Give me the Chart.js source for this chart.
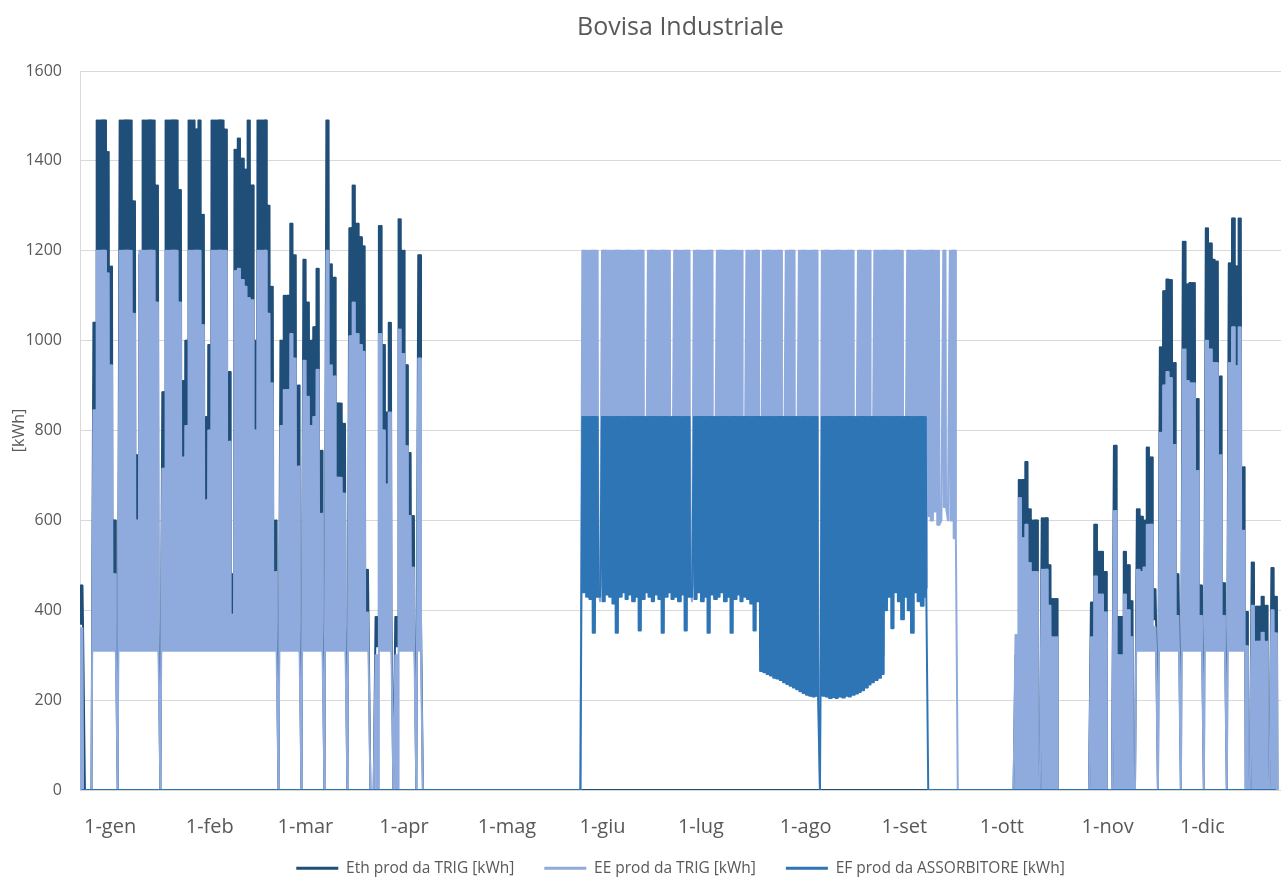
<!DOCTYPE html>
<html>
<head>
<meta charset="utf-8">
<title>Bovisa Industriale</title>
<script src="https://cdn.jsdelivr.net/npm/chart.js@4.4.1/dist/chart.umd.min.js"></script>
<style>
  html, body { margin: 0; padding: 0; background: #ffffff; }
  canvas { display: block; }
</style>
</head>
<body>
<canvas id="chart" width="1281" height="883"></canvas>
<script>
// ---- Axis labels -------------------------------------------------------
const monthLabels = ['1-gen', '1-feb', '1-mar', '1-apr', '1-mag', '1-giu',
                     '1-lug', '1-ago', '1-set', '1-ott', '1-nov', '1-dic'];
const monthStartDays = [0, 31, 59, 90, 120, 151, 181, 212, 243, 273, 304, 334];
const yearDays = 365;

const seriesNames = ['Eth prod da TRIG [kWh]', 'EE prod da TRIG [kWh]', 'EF prod da ASSORBITORE [kWh]'];

// ---- Daily operating ranges (kWh): daily peak and overnight base ----------
// A day whose peak equals its base is a single reading (e.g. plant off = 0).

// Heating season, 1 Jan onwards (day 0)
const winterAStart = 0;
const ethPeakWinterA = [
  455, 0, 0, 0, 1040, 1490, 1490, 1490, 1420, 1165,
  600, 0, 1490, 1490, 1490, 1490, 1310, 745, 1190, 1490,
  1490, 1490, 1490, 1345, 0, 885, 1490, 1490, 1490, 1490,
  1335, 910, 1000, 1490, 1490, 1470, 1490, 1280, 830, 990,
  1490, 1490, 1490, 1490, 1470, 930, 480, 1425, 1450, 1405,
  1380, 1490, 1345, 1000, 1490, 1490, 1490, 1300, 1120, 600,
  0, 1000, 1100, 1100, 1260, 1190, 900, 0, 1180, 1085,
  1000, 1030, 1160, 755, 0, 1490, 1170, 1140, 860, 860,
  815, 0, 1250, 1345, 1260, 1230, 1210, 490, 0, 0,
  385, 1255, 990, 840, 1040, 0, 385, 1270, 1200, 945,
  750, 610, 0, 1190, 0
];
const ethBaseWinterA = [
  370, 0, 0, 0, 380, 380, 380, 380, 380, 380,
  380, 0, 380, 380, 380, 380, 380, 380, 380, 380,
  380, 380, 380, 380, 0, 380, 380, 380, 380, 380,
  380, 380, 380, 380, 380, 380, 380, 380, 380, 380,
  380, 380, 380, 380, 380, 380, 380, 380, 380, 380,
  380, 380, 380, 380, 380, 380, 380, 380, 380, 380,
  0, 380, 380, 380, 380, 380, 380, 0, 380, 380,
  380, 380, 380, 380, 0, 380, 380, 380, 380, 380,
  380, 0, 380, 380, 380, 380, 380, 380, 0, 0,
  320, 380, 380, 380, 380, 0, 320, 380, 380, 380,
  380, 380, 0, 380, 0
];
const eePeakWinterA = [
  360, 0, 0, 0, 845, 1200, 1200, 1200, 1150, 945,
  480, 0, 1200, 1200, 1200, 1200, 1060, 600, 1200, 1200,
  1200, 1200, 1200, 1085, 0, 715, 1200, 1200, 1200, 1200,
  1085, 740, 810, 1200, 1200, 1200, 1200, 1035, 645, 800,
  1200, 1200, 1200, 1200, 1200, 775, 390, 1155, 1160, 1135,
  1120, 1095, 1090, 800, 1200, 1200, 1200, 1060, 905, 485,
  0, 810, 890, 890, 1015, 960, 720, 0, 955, 875,
  810, 830, 935, 615, 0, 1200, 945, 920, 695, 695,
  660, 0, 1010, 1085, 1015, 990, 975, 395, 0, 0,
  300, 1015, 800, 680, 840, 0, 300, 1025, 970, 765,
  610, 495, 0, 960, 0
];
const eeBaseWinterA = [
  0, 0, 0, 0, 310, 310, 310, 310, 310, 310,
  310, 0, 310, 310, 310, 310, 310, 310, 310, 310,
  310, 310, 310, 310, 0, 310, 310, 310, 310, 310,
  310, 310, 310, 310, 310, 310, 310, 310, 310, 310,
  310, 310, 310, 310, 310, 310, 310, 310, 310, 310,
  310, 310, 310, 310, 310, 310, 310, 310, 310, 310,
  0, 310, 310, 310, 310, 310, 310, 0, 310, 310,
  310, 310, 310, 310, 0, 310, 310, 310, 310, 310,
  310, 0, 310, 310, 310, 310, 310, 310, 0, 0,
  0, 310, 310, 310, 310, 0, 0, 310, 310, 310,
  310, 310, 0, 310, 0
];

// Cooling season (absorption chiller), from day 153
const summerStart = 153;
const eePeakSummer = [
  1200, 1200, 1200, 1200, 1200, 420, 1200, 1200, 1200, 1200,
  1200, 1200, 1200, 1200, 1200, 1200, 1200, 1200, 1200, 600,
  1200, 1200, 1200, 1200, 1200, 1200, 1200, 600, 1200, 1200,
  1200, 1200, 1200, 420, 1200, 1200, 1200, 1200, 1200, 1200,
  600, 1200, 1200, 1200, 1200, 1200, 1200, 1200, 1200, 600,
  1200, 1200, 1200, 1200, 600, 1200, 1200, 1200, 1200, 1200,
  1200, 600, 1200, 1200, 1200, 600, 1200, 1200, 1200, 1200,
  1200, 1200, 0, 1200, 1200, 1200, 1200, 1200, 1200, 1200,
  1200, 1200, 1200, 600, 1200, 1200, 1200, 1200, 600, 1200,
  1200, 1200, 1200, 1200, 1200, 1200, 1200, 1200, 600, 1200,
  1200, 1200, 1200, 1200, 1200, 1200, 1200, 1200, 1200, 600,
  1200, 600, 1200, 1200
];
const eeBaseSummer = [
  450, 450, 450, 450, 450, 420, 450, 450, 450, 450,
  450, 450, 450, 450, 450, 450, 450, 450, 450, 600,
  450, 450, 450, 450, 450, 450, 450, 600, 450, 450,
  450, 450, 450, 420, 450, 450, 450, 450, 450, 450,
  600, 450, 450, 450, 450, 450, 450, 450, 450, 600,
  450, 450, 450, 450, 600, 300, 300, 300, 300, 300,
  300, 600, 300, 300, 300, 600, 300, 300, 300, 300,
  300, 300, 0, 300, 300, 300, 300, 300, 300, 300,
  300, 300, 300, 600, 300, 300, 300, 300, 600, 300,
  300, 300, 450, 450, 450, 450, 450, 450, 600, 450,
  450, 450, 450, 450, 450, 610, 600, 620, 590, 600,
  630, 600, 600, 560
];
const efPeakSummer = [
  830, 830, 830, 830, 830, 430, 830, 830, 830, 830,
  830, 830, 830, 830, 830, 830, 830, 830, 830, 830,
  830, 830, 830, 830, 830, 830, 830, 830, 830, 830,
  830, 830, 830, 430, 830, 830, 830, 830, 830, 830,
  830, 830, 830, 830, 830, 830, 830, 830, 830, 830,
  830, 830, 830, 830, 830, 830, 830, 830, 830, 830,
  830, 830, 830, 830, 830, 830, 830, 830, 830, 830,
  830, 830, 0, 830, 830, 830, 830, 830, 830, 830,
  830, 830, 830, 830, 830, 830, 830, 830, 830, 830,
  830, 830, 830, 830, 830, 830, 830, 830, 830, 830,
  830, 830, 830, 830, 830
];
const efBaseSummer = [
  440, 430, 425, 350, 430, 430, 420, 435, 430, 415,
  350, 430, 440, 425, 435, 420, 430, 355, 425, 440,
  430, 420, 435, 425, 350, 430, 440, 425, 430, 420,
  435, 355, 430, 430, 425, 440, 420, 430, 350, 435,
  425, 430, 440, 420, 430, 350, 425, 435, 420, 430,
  425, 415, 355, 420, 265, 262, 258, 255, 250, 248,
  245, 240, 236, 232, 228, 224, 220, 216, 212, 210,
  208, 210, 0, 210, 208, 205, 207, 205, 208, 206,
  210, 208, 212, 215, 218, 222, 228, 235, 240, 245,
  250, 258, 400, 430, 360, 440, 420, 380, 430, 400,
  350, 440, 420, 410, 430
];

// Heating season, from day 285 to year end
const winterBStart = 285;
const ethPeakWinterB = [
  300, 690, 690, 730, 625, 600, 600, 0, 605, 605,
  500, 425, 425, 0, 0, 0, 0, 0, 0, 0,
  0, 0, 0, 417, 590, 530, 530, 485, 0, 0,
  766, 385, 385, 530, 500, 420, 0, 625, 608, 600,
  762, 740, 447, 0, 985, 1110, 1136, 1135, 950, 480,
  0, 1220, 1125, 1128, 1128, 870, 455, 0, 1250, 1216,
  1180, 1176, 920, 460, 0, 1172, 1272, 1165, 1272, 718,
  396, 0, 506, 408, 408, 430, 410, 0, 494, 430
];
const ethBaseWinterB = [
  0, 0, 0, 0, 0, 0, 0, 0, 0, 0,
  0, 0, 0, 0, 0, 0, 0, 0, 0, 0,
  0, 0, 0, 0, 0, 0, 0, 0, 0, 0,
  0, 0, 0, 0, 0, 0, 0, 380, 380, 380,
  380, 380, 380, 0, 380, 380, 380, 380, 380, 380,
  0, 380, 380, 380, 380, 380, 380, 0, 380, 380,
  380, 380, 380, 380, 0, 380, 380, 380, 380, 380,
  0, 0, 0, 0, 0, 0, 0, 0, 0, 0
];
const eePeakWinterB = [
  345, 650, 560, 590, 505, 485, 485, 0, 490, 490,
  410, 340, 340, 0, 0, 0, 0, 0, 0, 0,
  0, 0, 0, 340, 475, 435, 435, 395, 0, 0,
  621, 300, 300, 435, 400, 340, 0, 490, 485, 495,
  590, 590, 362, 0, 795, 900, 930, 917, 768, 387,
  0, 980, 910, 905, 905, 710, 387, 0, 1000, 980,
  950, 950, 745, 387, 0, 950, 1030, 943, 1030, 577,
  320, 0, 410, 330, 330, 350, 330, 0, 400, 349
];
const eeBaseWinterB = [
  0, 0, 0, 0, 0, 0, 0, 0, 0, 0,
  0, 0, 0, 0, 0, 0, 0, 0, 0, 0,
  0, 0, 0, 0, 0, 0, 0, 0, 0, 0,
  0, 0, 0, 0, 0, 0, 0, 310, 310, 310,
  310, 310, 310, 0, 310, 310, 310, 310, 310, 310,
  0, 310, 310, 310, 310, 310, 310, 0, 310, 310,
  310, 310, 310, 310, 0, 310, 310, 310, 310, 310,
  0, 0, 0, 0, 0, 0, 0, 0, 0, 0
];

// ---- Build line points ------------------------------------------------------
const SAMPLES_PER_DAY = 6;

function buildDailyTable(periods) {
  const table = [];
  for (let d = 0; d < yearDays; d++) table.push([0, 0]);
  periods.forEach(p => {
    p.peak.forEach((v, i) => { table[p.start + i] = [v, p.base[i]]; });
  });
  return table;
}

// Each running day alternates between its peak and base through the day;
// a constant day is one reading at mid-day.
function toLinePoints(table) {
  const pts = [];
  table.forEach(([peak, base], day) => {
    if (peak === base) {
      pts.push({ x: day + 0.5, y: peak });
      return;
    }
    for (let k = 0; k < SAMPLES_PER_DAY; k++) {
      pts.push({ x: day + (k + 0.5) / SAMPLES_PER_DAY, y: k % 2 === 0 ? peak : base });
    }
  });
  return pts;
}

const ethPoints = toLinePoints(buildDailyTable([
  { start: winterAStart, peak: ethPeakWinterA, base: ethBaseWinterA },
  { start: winterBStart, peak: ethPeakWinterB, base: ethBaseWinterB }
]));
const eePoints = toLinePoints(buildDailyTable([
  { start: winterAStart, peak: eePeakWinterA, base: eeBaseWinterA },
  { start: summerStart, peak: eePeakSummer, base: eeBaseSummer },
  { start: winterBStart, peak: eePeakWinterB, base: eeBaseWinterB }
]));
const efPoints = toLinePoints(buildDailyTable([
  { start: summerStart, peak: efPeakSummer, base: efBaseSummer }
]));

// ---- Chart -------------------------------------------------------------------
const FONT = "'Open Sans', 'DejaVu Sans', sans-serif";
const TEXT = '#595959';
Chart.defaults.font.family = FONT;
Chart.defaults.color = TEXT;

const lineStyle = { borderWidth: 2, pointRadius: 0, pointHoverRadius: 0, tension: 0,
                    fill: false, borderJoinStyle: 'round', borderCapStyle: 'butt' };

// Month labels sit below a short axis box; let them draw without clipping.
const unclippedMonthLabels = {
  id: 'unclippedMonthLabels',
  afterLayout(chart) {
    const xScale = chart.scales.x;
    if (xScale) xScale._computeLabelArea = () => undefined;
  }
};

new Chart(document.getElementById('chart'), {
  type: 'line',
  data: {
    datasets: [
      Object.assign({ label: seriesNames[0], data: ethPoints, borderColor: '#1f4e79',
                      backgroundColor: '#1f4e79', order: 3 }, lineStyle),
      Object.assign({ label: seriesNames[1], data: eePoints, borderColor: '#8faadc',
                      backgroundColor: '#8faadc', order: 2 }, lineStyle),
      Object.assign({ label: seriesNames[2], data: efPoints, borderColor: '#2e75b6',
                      backgroundColor: '#2e75b6', order: 1 }, lineStyle)
    ]
  },
  plugins: [unclippedMonthLabels],
  options: {
    responsive: false,
    animation: false,
    events: [],
    parsing: false,
    normalized: true,
    layout: { padding: { left: 0, right: 0, top: 0, bottom: -3 } },
    plugins: {
      title: {
        display: true,
        text: 'Bovisa Industriale',
        color: TEXT,
        fullSize: false,
        font: { family: FONT, size: 25, weight: 'normal' },
        padding: { top: 13, bottom: 28 }
      },
      legend: {
        display: true,
        position: 'bottom',
        fullSize: false,
        labels: {
          color: TEXT,
          font: { family: FONT, size: 15.5 },
          boxWidth: 42,
          boxHeight: 3,
          padding: 30,
          sort: (a, b) => a.datasetIndex - b.datasetIndex,
          generateLabels(chart) {
            return Chart.defaults.plugins.legend.labels.generateLabels(chart).map(item => {
              item.fillStyle = item.strokeStyle;
              item.lineWidth = 0;
              return item;
            });
          }
        }
      },
      tooltip: { enabled: false }
    },
    scales: {
      x: {
        type: 'linear',
        min: 0,
        max: 366,
        grid: { display: false, drawTicks: false },
        border: { display: false },
        afterBuildTicks(scale) {
          scale.ticks = monthStartDays.map(v => ({ value: v }));
        },
        afterFit(scale) { scale.height = 40.5; },
        ticks: {
          autoSkip: false,
          maxRotation: 0,
          align: 'start',
          labelOffset: 4,
          padding: 25,
          color: TEXT,
          font: { family: FONT, size: 20 },
          callback(value, index) { return monthLabels[index]; }
        }
      },
      y: {
        min: 0,
        max: 1600,
        grid: { color: '#d9d9d9', lineWidth: 1, drawTicks: false },
        border: { display: true, color: '#d9d9d9' },
        afterFit(scale) { scale.width = 80; },
        ticks: {
          stepSize: 200,
          padding: 18,
          color: TEXT,
          font: { family: FONT, size: 16 },
          callback(value) { return String(value); }
        },
        title: {
          display: true,
          text: '[kWh]',
          color: TEXT,
          font: { family: FONT, size: 16 },
          padding: { top: 10, bottom: 0 }
        }
      }
    }
  }
});
</script>
</body>
</html>
